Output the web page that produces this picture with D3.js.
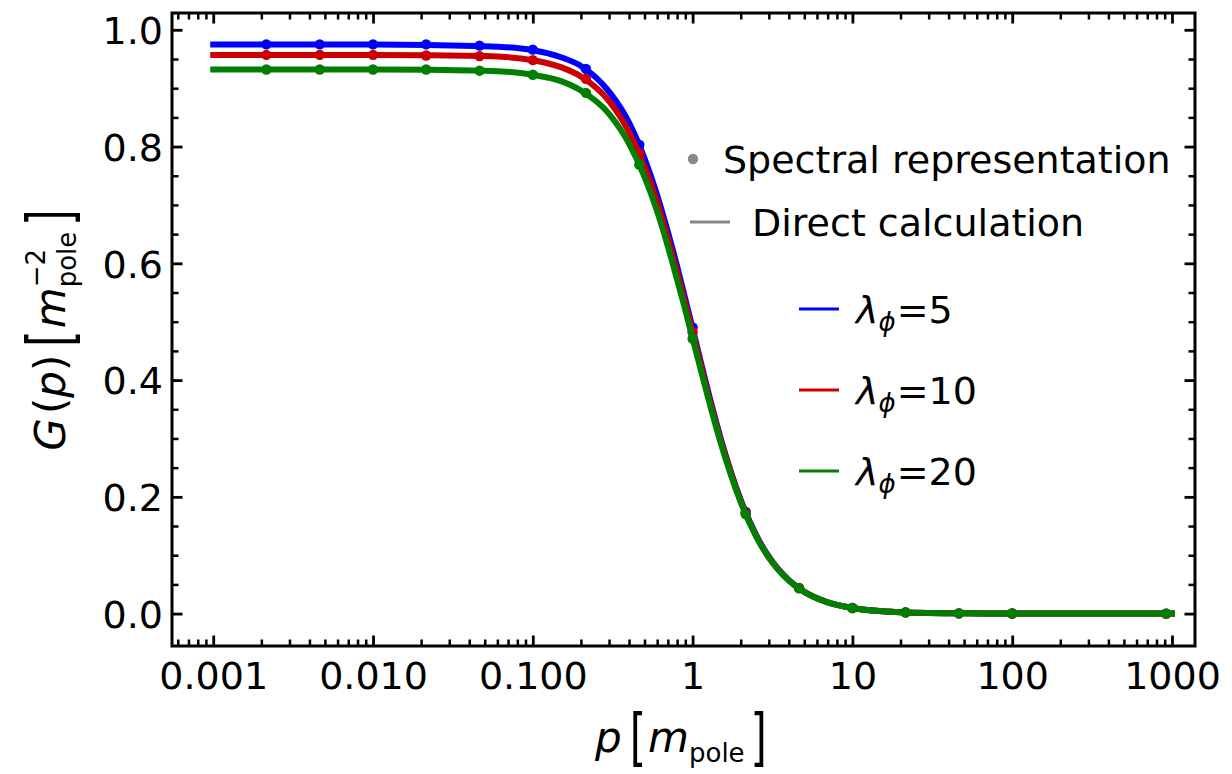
<!DOCTYPE html>
<html><head><meta charset="utf-8">
<script src="https://cdn.jsdelivr.net/npm/d3@7"></script>
<style>
body{margin:0;background:#fff}
svg{display:block}
text{font-family:"DejaVu Sans",sans-serif;fill:#000}
</style>
</head><body>
<svg id="chart" width="1232" height="774"></svg>
<script>
// ---------- data ----------
const xTickValues = [0.001, 0.01, 0.1, 1, 10, 100, 1000];
const xTickLabels = ["0.001", "0.010", "0.100", "1", "10", "100", "1000"];
const yTickValues = [0, 0.2, 0.4, 0.6, 0.8, 1.0];
const yTickLabels = ["0.0", "0.2", "0.4", "0.6", "0.8", "1.0"];

const seriesNames = ["5", "10", "20"];
const seriesColors = ["#0000ff", "#cc0000", "#007f00"];

// Spectral representation (dots)
const pointP = [0.00215, 0.00464, 0.01, 0.0215, 0.0464, 0.1, 0.215, 0.464, 1, 2.15, 4.64, 10, 21.5, 46.4, 100, 920];
const pointBlue  = [0.975, 0.975, 0.975, 0.975, 0.973, 0.966, 0.933, 0.803, 0.490, 0.174, 0.0440, 0.0097, 0.0021, 0.00045, 0.0001, 0.0];
const pointRed   = [0.957, 0.957, 0.957, 0.956, 0.955, 0.948, 0.916, 0.788, 0.482, 0.172, 0.0437, 0.0096, 0.0021, 0.00045, 0.0001, 0.0];
const pointGreen = [0.932, 0.932, 0.932, 0.932, 0.930, 0.923, 0.892, 0.769, 0.471, 0.170, 0.0434, 0.0095, 0.0021, 0.00045, 0.0001, 0.0];

// Direct calculation (lines)
const lineP = [0.001, 0.01, 0.05, 0.1, 0.15, 0.2, 0.3, 0.4, 0.5, 0.6, 0.7, 0.8, 0.9, 1.0, 1.2, 1.5, 2, 2.5, 3, 4, 5, 7, 10, 20, 50, 100, 1000];
const lineBlue  = [0.975, 0.975, 0.972, 0.965, 0.953, 0.938, 0.894, 0.841, 0.780, 0.717, 0.654, 0.595, 0.539, 0.489, 0.400, 0.300, 0.195, 0.1345, 0.0975, 0.0574, 0.0375, 0.0195, 0.0097, 0.0024, 0.0004, 0.0001, 0.0];
const lineRed   = [0.957, 0.957, 0.955, 0.948, 0.936, 0.920, 0.878, 0.825, 0.766, 0.705, 0.643, 0.585, 0.531, 0.482, 0.395, 0.297, 0.193, 0.133, 0.0965, 0.0569, 0.0372, 0.0194, 0.0096, 0.0024, 0.0004, 0.0001, 0.0];
const lineGreen = [0.932, 0.932, 0.930, 0.923, 0.912, 0.896, 0.856, 0.805, 0.748, 0.689, 0.629, 0.572, 0.520, 0.471, 0.388, 0.292, 0.191, 0.132, 0.0958, 0.0566, 0.0370, 0.0193, 0.0096, 0.0024, 0.0004, 0.0001, 0.0];

const pointSeries = [pointBlue, pointRed, pointGreen];
const lineSeries = [lineBlue, lineRed, lineGreen];

// ---------- layout ----------
const svg = d3.select("#chart");
const L = 172, R = 1195, T = 13, B = 646;

const x = d3.scaleLog().domain([Math.pow(10, -3.258), Math.pow(10, 3.144)]).range([L, R]);
const y = d3.scaleLinear().domain([-0.0555, 1.0288]).range([B, T]);

const xMinor = [];
for (let d = -4; d <= 3; d++) for (let m = 2; m <= 9; m++) {
  const v = m * Math.pow(10, d);
  if (v >= x.domain()[0] && v <= x.domain()[1]) xMinor.push(v);
}
const yMinor = [];
for (let i = 1; i <= 20; i++) if (i % 4 !== 0) yMinor.push(i * 0.05);

const FS = 38;

function styleAxis(g, w) {
  g.select(".domain").remove();
  g.selectAll(".tick line").attr("stroke", "#000").attr("stroke-width", w);
  g.selectAll(".tick text").style("font-size", FS + "px").attr("fill", "#000")
    .style("font-family", '"DejaVu Sans", sans-serif');
}

// bottom
const gB = svg.append("g").attr("transform", `translate(0,${B})`)
  .call(d3.axisBottom(x).tickValues(xTickValues).tickSizeInner(-10.5).tickSizeOuter(0).tickPadding(16)
    .tickFormat((d, i) => xTickLabels[i]));
styleAxis(gB, 2.8);
svg.append("g").attr("transform", `translate(0,${B})`)
  .call(d3.axisBottom(x).tickValues(xMinor).tickSizeInner(-6.5).tickSizeOuter(0).tickFormat(""))
  .call(g => styleAxis(g, 2.5));
// top
svg.append("g").attr("transform", `translate(0,${T})`)
  .call(d3.axisTop(x).tickValues(xTickValues).tickSizeInner(-10.5).tickSizeOuter(0).tickFormat(""))
  .call(g => styleAxis(g, 2.8));
svg.append("g").attr("transform", `translate(0,${T})`)
  .call(d3.axisTop(x).tickValues(xMinor).tickSizeInner(-6.5).tickSizeOuter(0).tickFormat(""))
  .call(g => styleAxis(g, 2.5));
// left
const gL = svg.append("g").attr("transform", `translate(${L},0)`)
  .call(d3.axisLeft(y).tickValues(yTickValues).tickSizeInner(-10.5).tickSizeOuter(0).tickPadding(9)
    .tickFormat((d, i) => yTickLabels[i]));
styleAxis(gL, 2.8);
gL.selectAll(".tick text").attr("dy", "0.36em");
svg.append("g").attr("transform", `translate(${L},0)`)
  .call(d3.axisLeft(y).tickValues(yMinor).tickSizeInner(-6.5).tickSizeOuter(0).tickFormat(""))
  .call(g => styleAxis(g, 2.5));
// right
svg.append("g").attr("transform", `translate(${R},0)`)
  .call(d3.axisRight(y).tickValues(yTickValues).tickSizeInner(-10.5).tickSizeOuter(0).tickFormat(""))
  .call(g => styleAxis(g, 2.8));
svg.append("g").attr("transform", `translate(${R},0)`)
  .call(d3.axisRight(y).tickValues(yMinor).tickSizeInner(-6.5).tickSizeOuter(0).tickFormat(""))
  .call(g => styleAxis(g, 2.5));

// ---------- data marks ----------
const line = d3.line().x(d => x(d.p)).y(d => y(d.v)).curve(d3.curveMonotoneX);
seriesNames.forEach((name, i) => {
  const ld = lineP.map((p, j) => ({p: p, v: lineSeries[i][j]}));
  svg.append("path").datum(ld).attr("d", line)
    .attr("fill", "none").attr("stroke", seriesColors[i]).attr("stroke-width", 6)
    .attr("stroke-linecap", "square").attr("stroke-linejoin", "round");
  const pd = pointP.map((p, j) => ({p: p, v: pointSeries[i][j]}));
  svg.append("g").selectAll("circle").data(pd).join("circle")
    .attr("cx", d => x(d.p)).attr("cy", d => y(d.v)).attr("r", 5.2)
    .attr("fill", seriesColors[i]);
});

// frame
svg.append("rect").attr("x", L).attr("y", T).attr("width", R - L).attr("height", B - T)
  .attr("fill", "none").attr("stroke", "#000").attr("stroke-width", 3);

// ---------- rich text helper ----------
function addText(g, pc, cx) {
  return g.append("text")
    .attr("transform", `translate(${cx},${pc.dy || 0}) scale(1,${pc.sy || 1})`)
    .style("font-size", pc.size + "px")
    .style("font-style", pc.it ? "italic" : "normal")
    .text(pc.t);
}
function layout(parent, pieces, center) {
  const g = parent.append("g");
  let cx = 0;
  pieces.forEach(pc => {
    cx += pc.pre || 0;
    if (pc.stack) {
      let maxw = 0;
      pc.stack.forEach(s => {
        const t = addText(g, s, cx + (s.pre || 0));
        maxw = Math.max(maxw, t.node().getComputedTextLength() + (s.pre || 0));
      });
      cx += maxw;
    } else {
      const t = addText(g, pc, cx);
      cx += t.node().getComputedTextLength();
    }
    cx += pc.post || 0;
  });
  if (center) g.attr("transform", `translate(${-cx / 2},0)`);
  return g;
}

const AF = 42, SF = 26, BS = 1.5, BD = 5.5;
// x label
const gx = svg.append("g").attr("transform", "translate(681,752)");
layout(gx, [
  {t: "p", size: AF, it: true, post: 8},
  {t: "[", size: AF, dy: BD, sy: BS, post: 2},
  {t: "m", size: AF, it: true},
  {t: "pole", size: SF, dy: 10, post: 6},
  {t: "]", size: AF, dy: BD, sy: BS}
], true);

// y label
const gy = svg.append("g").attr("transform", "translate(65,330) rotate(-90)");
layout(gy, [
  {t: "G", size: AF, it: true, post: 4},
  {t: "(", size: AF},
  {t: "p", size: AF, it: true},
  {t: ")", size: AF, post: 8},
  {t: "[", size: AF, dy: BD, sy: BS, post: 2},
  {t: "m", size: AF, it: true},
  {stack: [
    {t: "\u22122", size: SF, dy: -20, pre: 0},
    {t: "pole", size: SF, dy: 11}
  ], post: 6},
  {t: "]", size: AF, dy: BD, sy: BS}
], true);

// ---------- legend ----------
const lg = svg.append("g");
lg.append("circle").attr("cx", 693).attr("cy", 159).attr("r", 5.2).attr("fill", "#888");
lg.append("text").attr("x", 723).attr("y", 159 + 13.5).style("font-size", FS + "px").text("Spectral representation");
lg.append("line").attr("x1", 690).attr("x2", 730).attr("y1", 222).attr("y2", 222)
  .attr("stroke", "#888").attr("stroke-width", 3);
lg.append("text").attr("x", 752).attr("y", 222 + 13.5).style("font-size", FS + "px").text("Direct calculation");

const legendY = [309, 390, 471];
seriesNames.forEach((name, i) => {
  lg.append("line").attr("x1", 799).attr("x2", 839).attr("y1", legendY[i]).attr("y2", legendY[i])
    .attr("stroke", seriesColors[i]).attr("stroke-width", 3);
  const g = lg.append("g").attr("transform", `translate(856,${legendY[i] + 13.5})`);
  layout(g, [
    {t: "\u03bb", size: FS, it: true},
    {t: "\u03d5", size: SF, it: true, dy: 8, post: 1},
    {t: "=" + name, size: FS}
  ], false);
});
</script>
</body></html>
